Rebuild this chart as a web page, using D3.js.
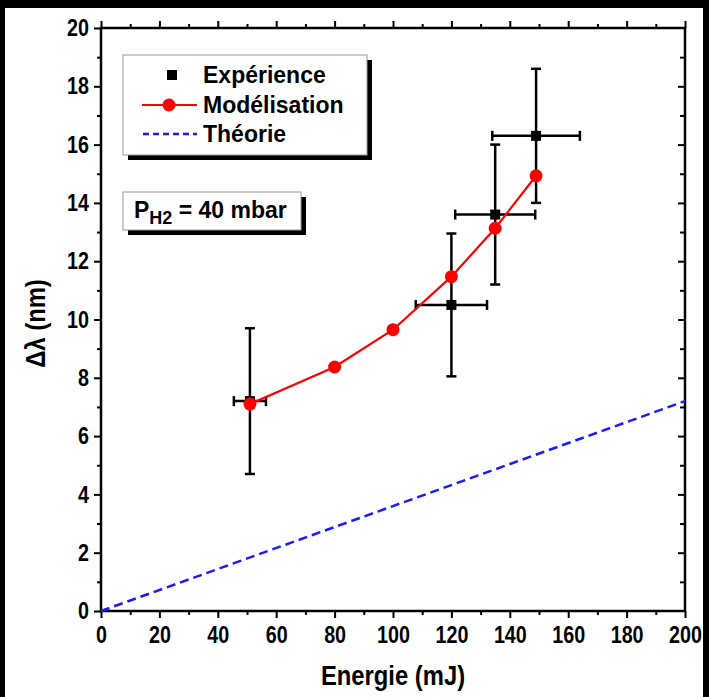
<!DOCTYPE html>
<html>
<head>
<meta charset="utf-8">
<script src="https://cdn.jsdelivr.net/npm/d3@7"></script>
<style>
  html, body { margin: 0; padding: 0; background: #000; }
  svg { display: block; }
</style>
</head>
<body>
<svg id="chart" width="709" height="697"></svg>
<script>
// Measured spectral shift versus pulse energy (P_H2 = 40 mbar)
const expEnergy    = [51, 120, 135, 149];
const expEnergyErr = [5.5, 12.2, 13.7, 15];
const expShift     = [7.2, 10.5, 13.6, 16.3];
const expShiftErr  = [2.5, 2.45, 2.4, 2.3];

// Model curve
const modEnergy = [51, 80, 100, 120, 135, 149];
const modShift  = [7.1, 8.37, 9.65, 11.47, 13.13, 14.93];

// Theoretical straight line
const theoryEnergy = [0, 200];
const theoryShift  = [0, 7.2];

// Axis ticks
const xMajor = [0, 20, 40, 60, 80, 100, 120, 140, 160, 180, 200];
const xMinor = [10, 30, 50, 70, 90, 110, 130, 150, 170, 190];
const yMajor = [0, 2, 4, 6, 8, 10, 12, 14, 16, 18, 20];
const yMinor = [1, 3, 5, 7, 9, 11, 13, 15, 17, 19];

const legendLabels = ["Expérience", "Modélisation", "Théorie"];

const W = 709, H = 697;
const M = { left: 101, right: 685, top: 28, bottom: 611 };
const FONT = "'Liberation Sans', Arial, Helvetica, sans-serif";

const svg = d3.select("#chart");

// condense a text element horizontally (narrow face look)
function condense(sel, factor) {
  sel.each(function () {
    const len = this.getComputedTextLength();
    d3.select(this).attr("textLength", len * factor).attr("lengthAdjust", "spacingAndGlyphs");
  });
}

// black frame around the white canvas
svg.append("rect").attr("x", 0).attr("y", 0).attr("width", W).attr("height", H).attr("fill", "#000");
svg.append("rect").attr("x", 5).attr("y", 8).attr("width", W - 5 - 6).attr("height", H - 8).attr("fill", "#fff");

const x = d3.scaleLinear().domain([0, 200]).range([M.left, M.right]);
const y = d3.scaleLinear().domain([0, 20]).range([M.bottom, M.top]);

function styleAxis(g) {
  g.select(".domain").remove();
  g.selectAll(".tick line").attr("stroke", "#000").attr("stroke-width", 2);
}

// bottom axis: labelled majors, outward ticks
const gxB = svg.append("g").attr("transform", `translate(0,${M.bottom})`)
  .call(d3.axisBottom(x).tickValues(xMajor).tickSize(7).tickPadding(8).tickFormat(d3.format("d")));
styleAxis(gxB);
gxB.selectAll("text").attr("font-family", FONT).attr("font-weight", "bold")
  .attr("font-size", 24).attr("fill", "#000").call(condense, 0.82);
const gxBm = svg.append("g").attr("transform", `translate(0,${M.bottom})`)
  .call(d3.axisBottom(x).tickValues(xMinor).tickSize(4).tickFormat(""));
styleAxis(gxBm);

// top axis: outward ticks, no labels
const gxT = svg.append("g").attr("transform", `translate(0,${M.top})`)
  .call(d3.axisTop(x).tickValues(xMajor).tickSize(7).tickFormat(""));
styleAxis(gxT);
const gxTm = svg.append("g").attr("transform", `translate(0,${M.top})`)
  .call(d3.axisTop(x).tickValues(xMinor).tickSize(4).tickFormat(""));
styleAxis(gxTm);

// left axis: labelled majors, outward ticks
const gyL = svg.append("g").attr("transform", `translate(${M.left},0)`)
  .call(d3.axisLeft(y).tickValues(yMajor).tickSize(7).tickPadding(5).tickFormat(d3.format("d")));
styleAxis(gyL);
gyL.selectAll("text").attr("font-family", FONT).attr("font-weight", "bold")
  .attr("font-size", 24).attr("fill", "#000").call(condense, 0.82);
const gyLm = svg.append("g").attr("transform", `translate(${M.left},0)`)
  .call(d3.axisLeft(y).tickValues(yMinor).tickSize(4).tickFormat(""));
styleAxis(gyLm);

// right axis: inward ticks
const gyR = svg.append("g").attr("transform", `translate(${M.right},0)`)
  .call(d3.axisLeft(y).tickValues(yMajor.filter(v => v > 0 && v < 20)).tickSize(7).tickFormat(""));
styleAxis(gyR);
const gyRm = svg.append("g").attr("transform", `translate(${M.right},0)`)
  .call(d3.axisLeft(y).tickValues(yMinor).tickSize(5).tickFormat(""));
styleAxis(gyRm);

// plot frame
svg.append("rect").attr("x", M.left).attr("y", M.top)
  .attr("width", M.right - M.left).attr("height", M.bottom - M.top)
  .attr("fill", "none").attr("stroke", "#000").attr("stroke-width", 2.5);

// axis titles
svg.append("text").attr("x", (M.left + M.right) / 2).attr("y", 685)
  .attr("text-anchor", "middle").attr("font-family", FONT).attr("font-weight", "bold")
  .attr("font-size", 28).attr("fill", "#000").text("Energie (mJ)")
  .call(condense, 0.85);

svg.append("text")
  .attr("transform", `translate(45,${(M.top + M.bottom) / 2 + 4}) rotate(-90)`)
  .attr("text-anchor", "middle").attr("font-family", FONT).attr("font-weight", "bold")
  .attr("font-size", 28).attr("fill", "#000").text("\u0394\u03bb (nm)")
  .call(condense, 0.85);

// theory line
const line = d3.line().x(d => x(d[0])).y(d => y(d[1]));
svg.append("path").datum(d3.zip(theoryEnergy, theoryShift))
  .attr("d", line).attr("fill", "none").attr("stroke", "#1a1aff")
  .attr("stroke-width", 2.5).attr("stroke-dasharray", "9,5");

// experimental error bars and markers
const exp = d3.range(expEnergy.length).map(i => ({
  e: expEnergy[i], de: expEnergyErr[i], s: expShift[i], ds: expShiftErr[i]
}));
const cap = 5;
const eb = svg.append("g").attr("stroke", "#000").attr("stroke-width", 2.5);
exp.forEach(d => {
  const cx = x(d.e), cy = y(d.s);
  const y0 = y(d.s - d.ds), y1 = y(d.s + d.ds);
  const x0 = x(d.e - d.de), x1 = x(d.e + d.de);
  eb.append("line").attr("x1", cx).attr("x2", cx).attr("y1", y0).attr("y2", y1);
  eb.append("line").attr("x1", cx - cap).attr("x2", cx + cap).attr("y1", y0).attr("y2", y0);
  eb.append("line").attr("x1", cx - cap).attr("x2", cx + cap).attr("y1", y1).attr("y2", y1);
  eb.append("line").attr("x1", x0).attr("x2", x1).attr("y1", cy).attr("y2", cy);
  eb.append("line").attr("x1", x0).attr("x2", x0).attr("y1", cy - cap).attr("y2", cy + cap);
  eb.append("line").attr("x1", x1).attr("x2", x1).attr("y1", cy - cap).attr("y2", cy + cap);
});
svg.append("g").selectAll("rect").data(exp).join("rect")
  .attr("x", d => x(d.e) - 5).attr("y", d => y(d.s) - 5)
  .attr("width", 10).attr("height", 10).attr("fill", "#000");

// model curve
const mod = d3.zip(modEnergy, modShift);
svg.append("path").datum(mod).attr("d", line)
  .attr("fill", "none").attr("stroke", "#ff0000").attr("stroke-width", 2.2);
svg.append("g").selectAll("circle").data(mod).join("circle")
  .attr("cx", d => x(d[0])).attr("cy", d => y(d[1])).attr("r", 6.5).attr("fill", "#ff0000");

// boxes with drop shadow
function shadowBox(bx, by, bw, bh) {
  svg.append("rect").attr("x", bx + 5).attr("y", by + 5).attr("width", bw).attr("height", bh).attr("fill", "#000");
  svg.append("rect").attr("x", bx).attr("y", by).attr("width", bw).attr("height", bh)
    .attr("fill", "#fff").attr("stroke", "#999").attr("stroke-width", 1);
}

// legend
shadowBox(123, 55, 244, 100);
const lg = svg.append("g");
const rowY = [75, 105, 134];
lg.append("rect").attr("x", 167).attr("y", rowY[0] - 5).attr("width", 10).attr("height", 10).attr("fill", "#000");
lg.append("line").attr("x1", 142).attr("x2", 197).attr("y1", rowY[1]).attr("y2", rowY[1])
  .attr("stroke", "#ff0000").attr("stroke-width", 2.2);
lg.append("circle").attr("cx", 169).attr("cy", rowY[1]).attr("r", 6.5).attr("fill", "#ff0000");
lg.append("line").attr("x1", 143).attr("x2", 197).attr("y1", rowY[2]).attr("y2", rowY[2])
  .attr("stroke", "#1a1aff").attr("stroke-width", 2.5).attr("stroke-dasharray", "6,4");
lg.selectAll("text").data(legendLabels).join("text")
  .attr("x", 203).attr("y", (d, i) => rowY[i] + 8)
  .attr("font-family", FONT).attr("font-weight", "bold").attr("font-size", 23)
  .attr("fill", "#000").text(d => d);

// pressure box
shadowBox(123, 192, 178, 38);
const pt = svg.append("text").attr("x", 134).attr("y", 218)
  .attr("font-family", FONT).attr("font-weight", "bold").attr("font-size", 23).attr("fill", "#000");
pt.append("tspan").text("P");
pt.append("tspan").attr("dy", 6).attr("font-size", 18).text("H2");
pt.append("tspan").attr("dy", -6).text(" = 40 mbar");
</script>
</body>
</html>
